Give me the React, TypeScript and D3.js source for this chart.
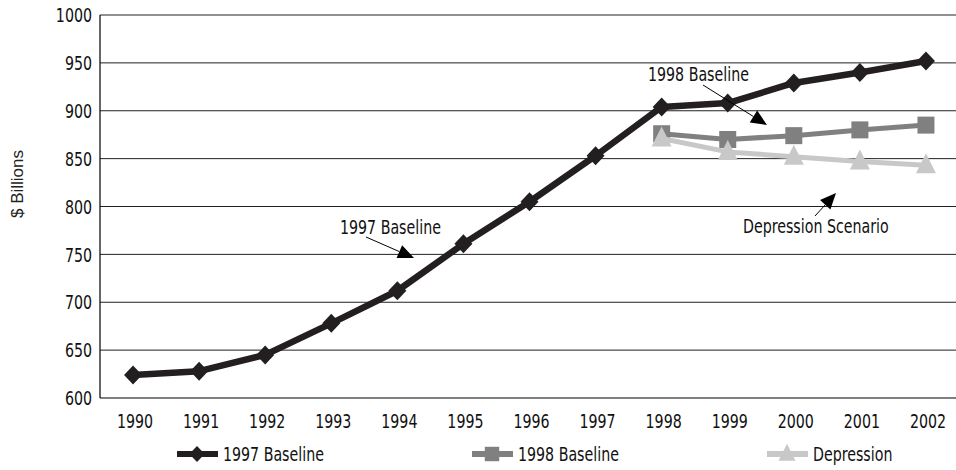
import React from "react";
import * as d3 from "d3";

const years = ["1990","1991","1992","1993","1994","1995","1996","1997","1998","1999","2000","2001","2002"];
const baseline1997 = [624, 628, 645, 678, 712, 761, 805, 853, 904, 908, 929, 940, 952];
const baseline1998Years = ["1998","1999","2000","2001","2002"];
const baseline1998 = [876, 870, 874, 880, 885];
const depressionYears = ["1998","1999","2000","2001","2002"];
const depression = [871, 857, 852, 847, 843];
const yTicks = [600, 650, 700, 750, 800, 850, 900, 950, 1000];

const W = 956, H = 470;
const FONT = "'DejaVu Sans Condensed', 'Liberation Sans Narrow', 'Arial Narrow', sans-serif";
const C1 = "#231f20", C2 = "#808080", C3 = "#c8c8c8";

const diamond = "M0,-9.5L9,0L0,9.5L-9,0Z";
const square = "M-8.5,-8.5H8.5V8.5H-8.5Z";
const triangle = "M0,-12L10,8L-10,8Z";

function Txt({ x, y, anchor = "start", dy = "0", children, size = 20 }: any) {
  return (
    <text transform={`translate(${x},${y}) scale(0.79,1)`} textAnchor={anchor} dy={dy} fontSize={size} fill="#111">
      {children}
    </text>
  );
}

function Arrow({ x1, y1, x2, y2 }: { x1: number; y1: number; y2: number; x2: number }) {
  const ang = Math.atan2(y2 - y1, x2 - x1);
  const len = 16, half = 7;
  const bx = x2 - len * Math.cos(ang), by = y2 - len * Math.sin(ang);
  const px = -Math.sin(ang) * half, py = Math.cos(ang) * half;
  return (
    <g>
      <line x1={x1} y1={y1} x2={bx} y2={by} stroke="#000" strokeWidth={1} />
      <path d={`M${x2},${y2}L${bx + px},${by + py}L${bx - px},${by - py}Z`} fill="#000" />
    </g>
  );
}

export default function App() {
  const x = d3.scaleBand<string>().domain(years).range([100, 959]).padding(0);
  const cx = (yr: string) => (x(yr) as number) + x.bandwidth() / 2;
  const y = d3.scaleLinear().domain([600, 1000]).range([398, 15]);

  const line = d3.line<[string, number]>().x(d => cx(d[0])).y(d => y(d[1]));
  const s1 = years.map((yr, i) => [yr, baseline1997[i]] as [string, number]);
  const s2 = baseline1998Years.map((yr, i) => [yr, baseline1998[i]] as [string, number]);
  const s3 = depressionYears.map((yr, i) => [yr, depression[i]] as [string, number]);

  const legend = [
    { label: "1997 Baseline", color: C1, shape: diamond },
    { label: "1998 Baseline", color: C2, shape: square },
    { label: "Depression", color: C3, shape: triangle },
  ];

  return (
    <svg width={W} height={H} style={{ position: "absolute", left: 0, top: 0, background: "#fff" }} fontFamily={FONT}>
      <rect width={W} height={H} fill="#fff" />
      {yTicks.filter(t => t > 600).map(t => (
        <line key={t} x1={100} x2={959} y1={y(t)} y2={y(t)} stroke="#222" strokeWidth={1} />
      ))}
      <line x1={100} x2={100} y1={y(1000)} y2={y(600)} stroke="#000" strokeWidth={1.2} />
      <line x1={100} x2={959} y1={y(600)} y2={y(600)} stroke="#000" strokeWidth={1.2} />
      {yTicks.map(t => (
        <Txt key={t} x={92} y={y(t)} dy="0.36em" anchor="end">{t}</Txt>
      ))}
      {years.map(yr => (
        <Txt key={yr} x={cx(yr) + 2} y={428} anchor="middle">{yr}</Txt>
      ))}
      <text transform="translate(23,184) rotate(-90)" textAnchor="middle" fontSize={17} fill="#222"
        fontFamily="'Liberation Sans', Arial, sans-serif">$ Billions</text>

      <path d={line(s1) as string} fill="none" stroke={C1} strokeWidth={6.5} strokeLinejoin="round" />
      {s1.map(d => <path key={d[0]} d={diamond} transform={`translate(${cx(d[0])},${y(d[1])})`} fill={C1} />)}
      <path d={line(s2) as string} fill="none" stroke={C2} strokeWidth={5} strokeLinejoin="round" />
      {s2.map(d => <path key={d[0]} d={square} transform={`translate(${cx(d[0])},${y(d[1])})`} fill={C2} />)}
      <path d={line(s3) as string} fill="none" stroke={C3} strokeWidth={5} strokeLinejoin="round" />
      {s3.map(d => <path key={d[0]} d={triangle} transform={`translate(${cx(d[0])},${y(d[1])})`} fill={C3} />)}

      <Txt x={340} y={234}>1997 Baseline</Txt>
      <Arrow x1={366} y1={237} x2={414} y2={258} />
      <Txt x={648} y={81}>1998 Baseline</Txt>
      <Arrow x1={703} y1={85} x2={767} y2={125} />
      <Txt x={743} y={233}>Depression Scenario</Txt>
      <Arrow x1={815} y1={216} x2={836} y2={193} />

      {legend.map((l, i) => {
        const x0 = 177 + i * 295;
        return (
          <g key={l.label}>
            <line x1={x0} x2={x0 + 41} y1={454} y2={454} stroke={l.color} strokeWidth={6} />
            <path d={l.shape} transform={`translate(${x0 + 20},454) scale(0.85)`} fill={l.color} />
            <Txt x={x0 + 46} y={454} dy="0.36em">{l.label}</Txt>
          </g>
        );
      })}
    </svg>
  );
}
